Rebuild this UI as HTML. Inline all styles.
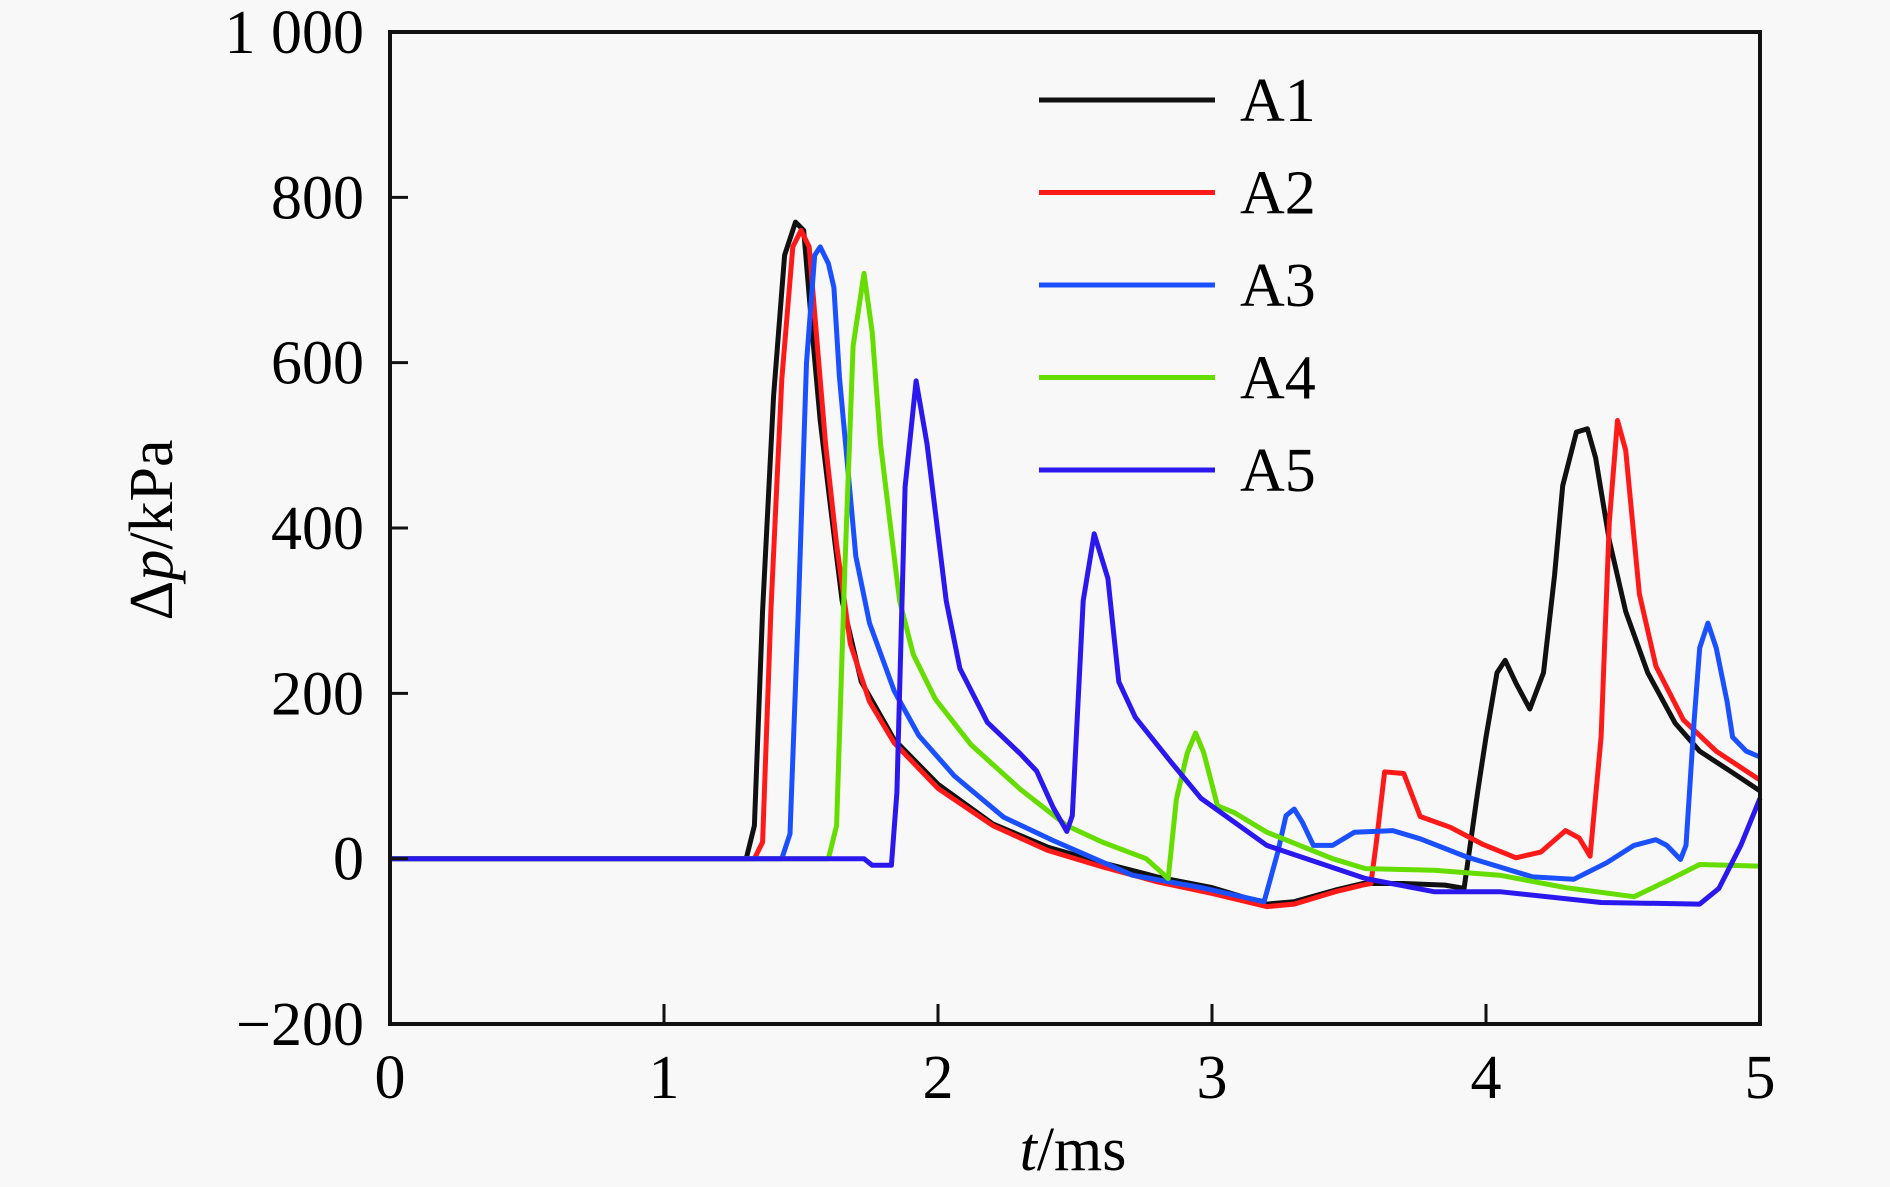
<!DOCTYPE html>
<html><head><meta charset="utf-8"><style>
html,body{margin:0;padding:0;background:#f8f8f8;}
svg{display:block;font-family:"Liberation Serif",serif;}
</style></head><body>
<svg id="chart" width="1890" height="1187" viewBox="0 0 1890 1187" xmlns="http://www.w3.org/2000/svg">
<rect width="1890" height="1187" fill="#f8f8f8"/>
<g id="series"></g>
<rect x="390" y="32" width="1370" height="992" fill="none" stroke="#111" stroke-width="4"/>
<g id="ticks"></g>
<text transform="translate(172,530) rotate(-90)" text-anchor="middle" font-size="62">Δ<tspan font-style="italic">p</tspan>/kPa</text>
<text x="1073" y="1170" text-anchor="middle" font-size="62"><tspan font-style="italic">t</tspan>/ms</text>
<g id="legend"></g>
</svg>
<script>
const xTicks=[0,1,2,3,4,5];
const yTicks=[-200,0,200,400,600,800,1000];
const yTickLabels=["\u2212200","0","200","400","600","800","1 000"];
const seriesNames=["A1","A2","A3","A4","A5"];
const seriesColors=["#111111","#ff1a1a","#1a50ff","#66dd00","#2a18ee"];
const A1=[[0,0],[1.30,0],[1.33,40],[1.36,300],[1.40,560],[1.44,730],[1.48,770],[1.51,760],[1.54,640],[1.57,530],[1.61,420],[1.65,312],[1.72,214],[1.84,144],[2.0,90],[2.2,42],[2.4,14],[2.6,-5],[2.8,-22],[3.0,-35],[3.2,-55],[3.3,-52],[3.45,-38],[3.55,-30],[3.7,-30],[3.85,-32],[3.92,-36],[3.97,82],[4.0,147],[4.04,225],[4.07,240],[4.11,212],[4.16,181],[4.21,225],[4.25,342],[4.28,451],[4.33,516],[4.37,520],[4.40,485],[4.45,385],[4.51,299],[4.59,225],[4.69,164],[4.78,130],[4.90,104],[5.0,82]];
const A2=[[0,0],[1.33,0],[1.36,20],[1.39,300],[1.43,580],[1.47,740],[1.50,760],[1.53,740],[1.56,620],[1.59,500],[1.63,380],[1.68,260],[1.75,190],[1.84,140],[2.0,85],[2.2,40],[2.4,10],[2.6,-10],[2.8,-28],[3.0,-42],[3.2,-58],[3.3,-55],[3.45,-40],[3.55,-32],[3.58,-30],[3.60,20],[3.63,105],[3.70,103],[3.76,51],[3.87,38],[3.99,17],[4.11,1],[4.20,8],[4.29,34],[4.34,25],[4.38,3],[4.42,147],[4.45,407],[4.48,530],[4.51,494],[4.56,320],[4.62,233],[4.72,168],[4.84,130],[5.0,95]];
const A3=[[0,0],[1.43,0],[1.46,30],[1.49,300],[1.52,600],[1.55,730],[1.57,740],[1.60,720],[1.62,691],[1.64,583],[1.67,475],[1.70,366],[1.75,285],[1.84,203],[1.93,149],[2.06,100],[2.24,50],[2.42,22],[2.71,-20],[2.96,-35],[3.19,-52],[3.24,8],[3.27,52],[3.30,60],[3.33,44],[3.37,16],[3.44,16],[3.52,32],[3.66,34],[3.76,24],[3.93,2],[4.17,-22],[4.32,-25],[4.44,-5],[4.54,16],[4.62,23],[4.66,16],[4.71,-1],[4.73,16],[4.76,168],[4.78,255],[4.81,285],[4.84,255],[4.88,190],[4.90,147],[4.95,130],[5.0,123]];
const A4=[[0,0],[1.60,0],[1.63,40],[1.66,350],[1.69,620],[1.73,708],[1.76,637],[1.79,502],[1.83,393],[1.86,312],[1.91,247],[1.99,193],[2.12,138],[2.30,84],[2.47,40],[2.60,20],[2.76,0],[2.84,-24],[2.87,72],[2.91,128],[2.94,152],[2.97,128],[3.02,64],[3.08,56],[3.20,32],[3.44,0],[3.56,-12],[3.81,-14],[4.05,-20],[4.29,-35],[4.54,-46],[4.66,-27],[4.78,-7],[5.0,-9]];
const A5=[[0,0],[1.73,0],[1.76,-8],[1.83,-8],[1.85,80],[1.88,450],[1.92,578],[1.96,502],[1.99,420],[2.03,312],[2.08,230],[2.18,165],[2.30,127],[2.36,106],[2.42,62],[2.47,33],[2.49,52],[2.53,312],[2.57,393],[2.62,339],[2.66,214],[2.72,171],[2.85,117],[2.96,73],[3.20,16],[3.56,-24],[3.81,-40],[4.05,-40],[4.42,-53],[4.78,-55],[4.85,-36],[4.93,16],[5.0,73]];
const allSeries=[A1,A2,A3,A4,A5];
const NS="http://www.w3.org/2000/svg";
const X0=390,X1=1760,Y0=1024,Y1=32;
function xs(t){return X0+(t-0)/(5-0)*(X1-X0);}
function ys(v){return Y0-(v+200)/(1000+200)*(Y0-Y1);}
const tk=document.getElementById('ticks');
xTicks.forEach((t,i)=>{
  if(i>0&&i<xTicks.length-1){
    const l=document.createElementNS(NS,'line');
    
    
    l.setAttribute('x1',xs(t));l.setAttribute('x2',xs(t));l.setAttribute('y1',Y0);l.setAttribute('y2',Y0-20);
    l.setAttribute('stroke','#111');l.setAttribute('stroke-width','3');tk.appendChild(l);
  }
  const tx=document.createElementNS(NS,'text');
  
  
  tx.setAttribute('x',xs(t));tx.setAttribute('y',1098);tx.setAttribute('text-anchor','middle');tx.setAttribute('font-size','62');
  tx.textContent=String(t);tk.appendChild(tx);
});
yTicks.forEach((v,i)=>{
  if(i>0&&i<yTicks.length-1){
    const l=document.createElementNS(NS,'line');
    
    
    l.setAttribute('x1',X0);l.setAttribute('x2',X0+18);l.setAttribute('y1',ys(v));l.setAttribute('y2',ys(v));
    l.setAttribute('stroke','#111');l.setAttribute('stroke-width','3');tk.appendChild(l);
  }
  const tx=document.createElementNS(NS,'text');
  
  
  tx.setAttribute('x',364);tx.setAttribute('y',ys(v)+21);tx.setAttribute('text-anchor','end');tx.setAttribute('font-size','62');
  tx.textContent=yTickLabels[i];tk.appendChild(tx);
});
const sg=document.getElementById('series');
allSeries.forEach((d,i)=>{
  const p=document.createElementNS(NS,'polyline');
  
  
  p.setAttribute('points',d.map(q=>xs(q[0]).toFixed(1)+','+ys(q[1]).toFixed(1)).join(' '));
  p.setAttribute('fill','none');p.setAttribute('stroke',seriesColors[i]);p.setAttribute('stroke-width','5');
  p.setAttribute('stroke-linejoin','round');
  sg.appendChild(p);
});
const lg=document.getElementById('legend');
seriesNames.forEach((n,i)=>{
  const y=100+i*92.5;
  const l=document.createElementNS(NS,'line');
  
  
  l.setAttribute('x1',1039);l.setAttribute('x2',1215);l.setAttribute('y1',y);l.setAttribute('y2',y);
  l.setAttribute('stroke',seriesColors[i]);l.setAttribute('stroke-width','5');lg.appendChild(l);
  const t=document.createElementNS(NS,'text');
  
  
  t.setAttribute('x',1240);t.setAttribute('y',y+21);t.setAttribute('font-size','62');
  t.textContent=n;lg.appendChild(t);
});
</script>
</body></html>
